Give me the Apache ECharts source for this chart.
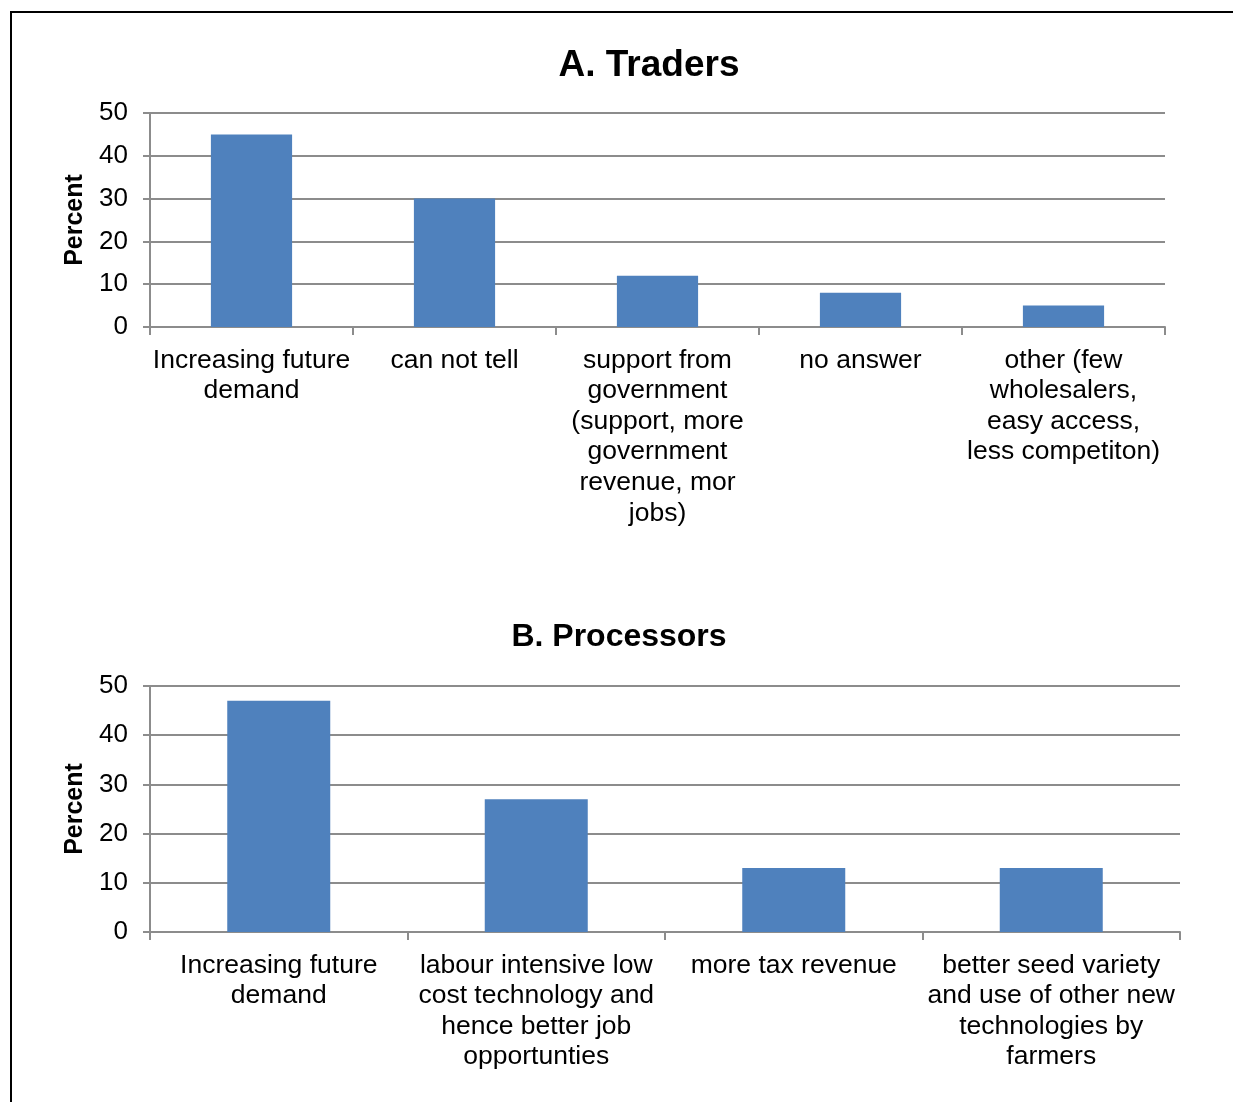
<!DOCTYPE html>
<html>
<head>
<meta charset="utf-8">
<script src="https://cdn.jsdelivr.net/npm/echarts@6/dist/echarts.min.js"></script>
<style>
  html, body { margin: 0; padding: 0; background: #fff; }
  #frame { position: absolute; left: 10px; top: 11px; width: 1240px; height: 1110px; border: 2px solid #000; box-sizing: border-box; }
  #chart { position: absolute; left: 0; top: 0; width: 1233px; height: 1102px; }
</style>
</head>
<body>
<div id="frame"></div>
<div id="chart"></div>
<script>
const tradersCats = [
  "Increasing future\ndemand",
  "can not tell",
  "support from\ngovernment\n(support, more\ngovernment\nrevenue, mor\njobs)",
  "no answer",
  "other (few\nwholesalers,\neasy access,\nless competiton)"
];
const tradersVals = [45, 30, 12, 8, 5];

const procCats = [
  "Increasing future\ndemand",
  "labour intensive low\ncost technology and\nhence better job\nopportunties",
  "more tax revenue",
  "better seed variety\nand use of other new\ntechnologies by\nfarmers"
];
const procVals = [47, 27, 13, 13];

const yTicks = [0, 10, 20, 30, 40, 50];

const FONT = "Liberation Sans, Arial, sans-serif";
const barColor = "#4F81BD";

function xAxisFor(idx, cats) {
  return {
    type: "category",
    gridIndex: idx,
    data: cats,
    axisLine: { show: true, lineStyle: { color: "#8c8c8c", width: 2 } },
    axisTick: { show: true, length: 8, lineStyle: { color: "#8c8c8c", width: 2 } },
    axisLabel: { color: "#000", fontSize: 26.5, fontFamily: FONT, lineHeight: 30.6, margin: 18, interval: 0 }
  };
}

function yAxisFor(idx) {
  return {
    type: "value",
    gridIndex: idx,
    min: yTicks[0],
    max: yTicks[yTicks.length - 1],
    interval: 10,
    name: "Percent",
    nameLocation: "middle",
    nameGap: 62,
    nameRotate: 90,
    nameTextStyle: { color: "#000", fontSize: 25, fontWeight: "bold", fontFamily: FONT },
    axisLine: { show: true, lineStyle: { color: "#8c8c8c", width: 2 } },
    axisTick: { show: true, inside: false, length: 7, lineStyle: { color: "#8c8c8c", width: 2 } },
    axisLabel: { color: "#000", fontSize: 26, fontFamily: FONT, margin: 22, padding: [4, 0, 0, 0] },
    splitLine: { show: true, lineStyle: { color: "#8c8c8c", width: 2 } }
  };
}

const chart = echarts.init(document.getElementById("chart"));
chart.setOption({
  animation: false,
  title: [
    { text: "A. Traders", left: 644, top: 42, textAlign: "center",
      textStyle: { fontSize: 37, fontWeight: "bold", fontFamily: FONT, color: "#000" } },
    { text: "B. Processors", left: 614, top: 616, textAlign: "center",
      textStyle: { fontSize: 32, fontWeight: "bold", fontFamily: FONT, color: "#000" } }
  ],
  grid: [
    { left: 150, right: 68, top: 113, height: 214 },
    { left: 150, right: 53, top: 686, height: 246 }
  ],
  xAxis: [xAxisFor(0, tradersCats), xAxisFor(1, procCats)],
  yAxis: [yAxisFor(0), yAxisFor(1)],
  series: [
    { type: "bar", xAxisIndex: 0, yAxisIndex: 0, data: tradersVals, barWidth: "40%",
      itemStyle: { color: barColor } },
    { type: "bar", xAxisIndex: 1, yAxisIndex: 1, data: procVals, barWidth: "40%",
      itemStyle: { color: barColor } }
  ]
});
</script>
</body>
</html>
